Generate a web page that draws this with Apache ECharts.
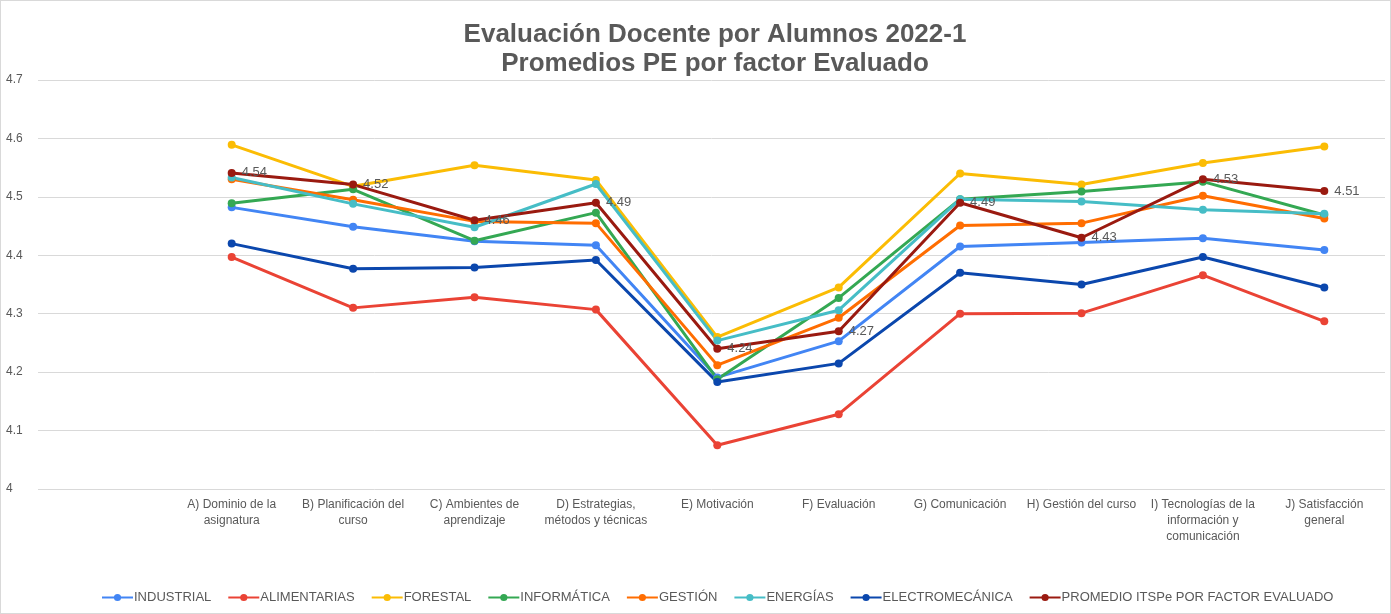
<!DOCTYPE html>
<html>
<head>
<meta charset="utf-8">
<script src="https://cdn.jsdelivr.net/npm/echarts@6/dist/echarts.min.js"></script>
<style>
  html, body { margin: 0; padding: 0; background: #fff; }
  #chart { width: 1389px; height: 612px; border: 1px solid #d9d9d9; }
</style>
</head>
<body>
<div id="chart"></div>
<script>
// categories (line breaks as in the original axis labels)
const categories = [
  'A) Dominio de la\nasignatura',
  'B) Planificación del\ncurso',
  'C) Ambientes de\naprendizaje',
  'D) Estrategias,\nmétodos y técnicas',
  'E) Motivación',
  'F) Evaluación',
  'G) Comunicación',
  'H) Gestión del curso',
  'I) Tecnologías de la\ninformación y\ncomunicación',
  'J) Satisfacción\ngeneral'
]

const industrial = [4.482, 4.449, 4.424, 4.417, 4.191, 4.253, 4.415, 4.422, 4.429, 4.409]
const alimentarias = [4.397, 4.310, 4.328, 4.307, 4.075, 4.128, 4.300, 4.301, 4.366, 4.287]
const forestal = [4.589, 4.518, 4.554, 4.529, 4.260, 4.345, 4.540, 4.521, 4.558, 4.586]
const informatica = [4.489, 4.513, 4.425, 4.473, 4.188, 4.327, 4.496, 4.509, 4.526, 4.469]
const gestion = [4.530, 4.495, 4.458, 4.455, 4.212, 4.293, 4.451, 4.455, 4.502, 4.463]
const energias = [4.533, 4.488, 4.448, 4.522, 4.254, 4.306, 4.496, 4.492, 4.478, 4.471]
const electromecanica = [4.420, 4.377, 4.379, 4.392, 4.183, 4.215, 4.370, 4.350, 4.397, 4.345]
const promedio = [4.541, 4.521, 4.460, 4.490, 4.240, 4.270, 4.490, 4.430, 4.530, 4.510]

const yTicks = { min: 4, max: 4.7, interval: 0.1 }

const textColor = '#595959'
const font = 'Liberation Sans, Arial, sans-serif'

function line(name, data, color, withLabel) {
  return {
    name: name,
    type: 'line',
    xAxisIndex: 1,
    yAxisIndex: 1,
    data: data,
    symbol: 'circle',
    symbolSize: 8,
    color: color,
    lineStyle: { width: 3, color: color },
    itemStyle: { color: color },
    label: {
      show: !!withLabel,
      position: 'right',
      distance: 6,
      color: textColor,
      fontSize: 13,
      fontFamily: font,
      formatter: p => p.value.toFixed(2)
    },
    emphasis: { disabled: true },
    animation: false
  }
}

const chart = echarts.init(document.getElementById('chart'))

chart.setOption({
  textStyle: { fontFamily: font },
  title: {
    text: 'Evaluación Docente por Alumnos 2022-1\nPromedios PE por factor Evaluado',
    left: 709,
    textAlign: 'center',
    top: 14,
    textStyle: {
      fontSize: 26,
      fontWeight: 'bold',
      color: textColor,
      lineHeight: 29,
      fontFamily: font
    }
  },
  legend: {
    bottom: 4,
    left: 95,
    itemWidth: 31,
    itemHeight: 9,
    itemGap: 16,
    textStyle: { color: textColor, fontSize: 13, fontFamily: font, padding: [0, 0, 0, -4] },
    data: ['INDUSTRIAL', 'ALIMENTARIAS', 'FORESTAL', 'INFORMÁTICA', 'GESTIÓN', 'ENERGÍAS', 'ELECTROMECÁNICA', 'PROMEDIO ITSPe POR FACTOR EVALUADO']
  },
  grid: [
    // background grid carrying the value labels and gridlines
    { left: 37, right: 5, top: 79, bottom: 124 },
    // data grid
    { left: 170, right: 5, top: 79, bottom: 124 }
  ],
  xAxis: [
    { gridIndex: 0, type: 'value', show: false },
    {
      gridIndex: 1,
      type: 'category',
      data: categories,
      axisLine: { show: false },
      axisTick: { show: false },
      axisLabel: {
        color: textColor,
        fontSize: 12,
        lineHeight: 16,
        margin: 8,
        interval: 0,
        fontFamily: font
      }
    }
  ],
  yAxis: [
    {
      gridIndex: 0,
      type: 'value',
      min: yTicks.min,
      max: yTicks.max,
      interval: yTicks.interval,
      axisLine: { show: false },
      axisTick: { show: false },
      splitLine: { lineStyle: { color: '#d9d9d9', width: 1 } },
      axisLabel: {
        align: 'left',
        margin: 32,
        color: textColor,
        fontSize: 12,
        fontFamily: font,
        formatter: v => String(Math.round(v * 10) / 10)
      }
    },
    {
      gridIndex: 1,
      type: 'value',
      min: yTicks.min,
      max: yTicks.max,
      interval: yTicks.interval,
      show: false,
      splitLine: { show: false }
    }
  ],
  series: [
    line('INDUSTRIAL', industrial, '#4285F4'),
    line('ALIMENTARIAS', alimentarias, '#EA4335'),
    line('FORESTAL', forestal, '#FBBC04'),
    line('INFORMÁTICA', informatica, '#34A853'),
    line('GESTIÓN', gestion, '#FF6D01'),
    line('ENERGÍAS', energias, '#46BDC6'),
    line('ELECTROMECÁNICA', electromecanica, '#0B47AD'),
    line('PROMEDIO ITSPe POR FACTOR EVALUADO', promedio, '#9A1A10', true)
  ]
})
</script>
</body>
</html>
